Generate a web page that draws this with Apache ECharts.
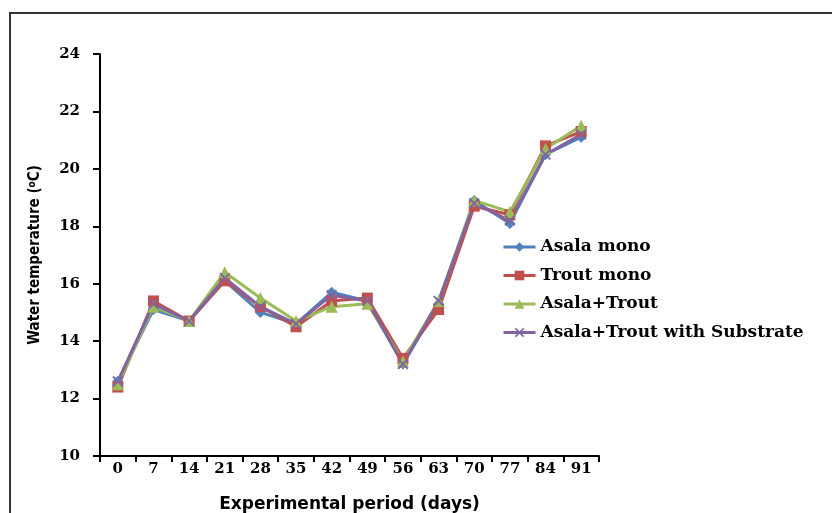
<!DOCTYPE html>
<html>
<head>
<meta charset="utf-8">
<script src="https://cdn.jsdelivr.net/npm/echarts@6/dist/echarts.min.js"></script>
<style>
  html, body { margin: 0; padding: 0; background: #fff; }
  #chart { width: 832px; height: 513px; }
</style>
</head>
<body>
<div id="chart"></div>
<script>
// Sampling days of the experiment
const days = ['0', '7', '14', '21', '28', '35', '42', '49', '56', '63', '70', '77', '84', '91'];

// Water temperature (°C) per treatment
const asalaMono = [12.6, 15.1, 14.7, 16.1, 15.0, 14.6, 15.7, 15.4, 13.2, 15.3, 18.9, 18.1, 20.5, 21.1];
const troutMono = [12.4, 15.4, 14.7, 16.1, 15.2, 14.5, 15.4, 15.5, 13.4, 15.1, 18.7, 18.4, 20.8, 21.3];
const asalaTrout = [12.5, 15.2, 14.7, 16.4, 15.5, 14.7, 15.2, 15.3, 13.3, 15.4, 18.9, 18.5, 20.7, 21.5];
const asalaTroutSubstrate = [12.6, 15.3, 14.7, 16.2, 15.2, 14.6, 15.6, 15.4, 13.2, 15.4, 18.8, 18.2, 20.5, 21.2];

// Y-axis range
const yMin = 10, yMax = 24, yStep = 2;

const crossSymbol = 'path://M0,1.2L1.2,0L5,3.8L8.8,0L10,1.2L6.2,5L10,8.8L8.8,10L5,6.2L1.2,10L0,8.8L3.8,5Z';

const seriesDefs = [
  { name: 'Asala mono', data: asalaMono, color: '#4F81BD', symbol: 'diamond', size: 11 },
  { name: 'Trout mono', data: troutMono, color: '#C0504D', symbol: 'rect', size: 11 },
  { name: 'Asala+Trout', data: asalaTrout, color: '#9BBB59', symbol: 'triangle', size: 12 },
  { name: 'Asala+Trout with Substrate', data: asalaTroutSubstrate, color: '#8064A2', symbol: crossSymbol, size: 11 }
];

const chart = echarts.init(document.getElementById('chart'), null, { renderer: 'canvas' });

const tickFont = { fontFamily: 'DejaVu Serif', fontWeight: 'bold', fontSize: 15, color: '#000' };

chart.setOption({
  animation: false,
  backgroundColor: '#fff',
  graphic: [{
    type: 'rect',
    shape: { x: 10, y: 13, width: 900, height: 600 },
    style: { fill: 'none', stroke: '#333', lineWidth: 2 },
    silent: true
  }],
  grid: { left: 100, right: 233, top: 54, bottom: 57, containLabel: false, outerBoundsMode: 'none' },
  legend: {
    orient: 'vertical',
    left: 497,
    top: 233.5,
    itemWidth: 32,
    itemHeight: 12,
    itemGap: 11.5,
    lineStyle: { width: 3 },
    textStyle: { fontFamily: 'DejaVu Serif', fontWeight: 'bold', fontSize: 17, lineHeight: 17, color: '#000' },
    data: seriesDefs.map(s => s.name)
  },
  xAxis: {
    type: 'category',
    data: days,
    boundaryGap: true,
    name: 'Experimental period (days)',
    nameLocation: 'middle',
    nameGap: 40,
    nameTextStyle: { fontFamily: 'DejaVu Sans', fontWeight: 'bold', fontSize: 17, color: '#000' },
    axisLine: { lineStyle: { color: '#000', width: 2 } },
    axisTick: { show: true, alignWithLabel: false, length: 6, lineStyle: { color: '#000', width: 2 } },
    axisLabel: Object.assign({ margin: 6 }, tickFont),
    splitLine: { show: false }
  },
  yAxis: {
    type: 'value',
    min: yMin,
    max: yMax,
    interval: yStep,
    name: '{a|Water temperature (}{s|o}{a|C)}',
    nameLocation: 'middle',
    nameGap: 57,
    nameRotate: 90,
    nameTextStyle: {
      color: '#000',
      rich: {
        a: { fontFamily: 'DejaVu Sans Condensed', fontWeight: 'bold', fontSize: 15, color: '#000' },
        s: { fontFamily: 'DejaVu Sans Condensed', fontWeight: 'bold', fontSize: 10, color: '#000', verticalAlign: 'top', padding: [0, 0, 6, 0] }
      }
    },
    axisLine: { show: true, lineStyle: { color: '#000', width: 2 } },
    axisTick: { show: true, inside: false, length: 7, lineStyle: { color: '#000', width: 2 } },
    axisLabel: Object.assign({ margin: 20 }, tickFont),
    splitLine: { show: false }
  },
  series: seriesDefs.map(s => ({
    name: s.name,
    type: 'line',
    data: s.data,
    symbol: s.symbol,
    symbolSize: s.size,
    showSymbol: true,
    lineStyle: { color: s.color, width: 3 },
    itemStyle: { color: s.color, borderWidth: 0 },
    emphasis: { disabled: true }
  }))
});
</script>
</body>
</html>
